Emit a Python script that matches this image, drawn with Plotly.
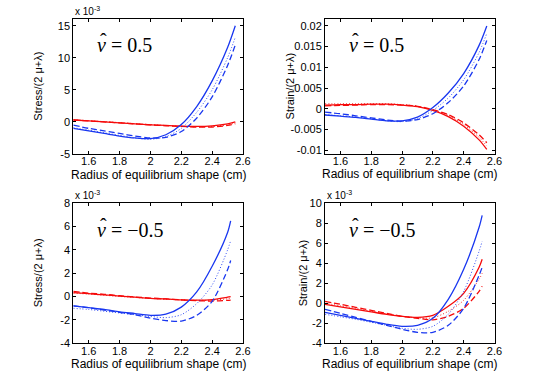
import plotly.graph_objects as go

# radius samples (cm)
r_top = [1.5, 1.6, 1.7, 1.8, 1.9, 2.0, 2.1, 2.2, 2.3, 2.4, 2.5, 2.55]
r_bot = [1.5, 1.6, 1.7, 1.8, 1.9, 2.0, 2.1, 2.2, 2.3, 2.4, 2.5, 2.52]

# stress, nu = 0.5  (x 1e-3)
s05_blue_solid = [-1.0, -1.4, -1.8, -2.2, -2.5, -2.6, -2.0, -0.4, 2.4, 6.4, 11.6, 15.0]
s05_blue_dash = [-0.5, -1.0, -1.4, -1.8, -2.2, -2.5, -2.4, -1.5, 0.6, 3.9, 8.8, 12.0]
s05_blue_dot = [-0.9, -1.3, -1.7, -2.1, -2.5, -2.7, -2.3, -1.0, 1.5, 5.0, 10.0, 13.2]
s05_red_solid = [0.3, 0.15, 0.0, -0.15, -0.3, -0.45, -0.55, -0.65, -0.7, -0.6, -0.3, 0.0]
s05_red_dash = [0.3, 0.15, 0.0, -0.15, -0.3, -0.45, -0.6, -0.7, -0.8, -0.8, -0.55, -0.3]
s05_red_dot = [0.35, 0.2, 0.05, -0.1, -0.28, -0.42, -0.55, -0.67, -0.75, -0.7, -0.45, -0.15]

# strain, nu = 0.5
e05_blue_solid = [-0.0015, -0.0018, -0.0021, -0.0025, -0.0029, -0.0029, -0.0020, 0.0003, 0.0038, 0.0085, 0.0153, 0.0200]
e05_blue_dash = [-0.0008, -0.0012, -0.0017, -0.0022, -0.0027, -0.0030, -0.0026, -0.0012, 0.0015, 0.0055, 0.0119, 0.0165]
e05_blue_dot = [-0.0014, -0.0017, -0.0020, -0.0024, -0.0029, -0.0031, -0.0024, -0.0004, 0.0026, 0.0070, 0.0136, 0.0182]
e05_red_solid = [0.0009, 0.0010, 0.0010, 0.0011, 0.0011, 0.0009, 0.0005, -0.0004, -0.0019, -0.0042, -0.0075, -0.0098]
e05_red_dash = [0.0007, 0.0008, 0.0009, 0.0010, 0.0010, 0.0009, 0.0006, -0.0002, -0.0014, -0.0034, -0.0063, -0.0082]
e05_red_dot = [0.0012, 0.0012, 0.0012, 0.0012, 0.0012, 0.0010, 0.0006, -0.0003, -0.0016, -0.0038, -0.0069, -0.0090]

# stress, nu = -0.5  (x 1e-3)
sm05_blue_solid = [-0.8, -0.95, -1.1, -1.3, -1.45, -1.6, -1.5, -0.9, 0.4, 2.6, 5.5, 6.5]
sm05_blue_dash = [-0.8, -0.95, -1.15, -1.35, -1.55, -1.85, -2.05, -2.1, -1.6, -0.4, 2.3, 3.1]
sm05_blue_dot = [-1.0, -1.1, -1.25, -1.4, -1.55, -1.7, -1.8, -1.55, -0.6, 1.0, 4.0, 4.8]
sm05_red_solid = [0.35, 0.25, 0.15, 0.05, -0.05, -0.15, -0.2, -0.27, -0.3, -0.25, -0.05, 0.0]
sm05_red_dash = [0.45, 0.3, 0.2, 0.08, -0.03, -0.12, -0.2, -0.28, -0.35, -0.38, -0.32, -0.3]
sm05_red_dot = [0.3, 0.22, 0.12, 0.02, -0.07, -0.15, -0.22, -0.28, -0.32, -0.3, -0.18, -0.12]

# strain, nu = -0.5  (x 1e-3)
em05_blue_solid = [-0.9, -1.2, -1.5, -1.8, -2.1, -2.3, -2.2, -1.5, 0.4, 3.4, 7.6, 8.8]
em05_blue_dash = [-0.6, -1.0, -1.4, -1.8, -2.2, -2.6, -2.9, -2.9, -2.2, -0.5, 2.8, 3.6]
em05_blue_dot = [-1.1, -1.35, -1.6, -1.9, -2.2, -2.5, -2.6, -2.3, -1.1, 1.2, 5.2, 6.2]
em05_red_solid = [-0.1, -0.35, -0.6, -0.85, -1.1, -1.3, -1.4, -1.2, -0.3, 1.0, 3.6, 4.4]
em05_red_dash = [0.2, -0.1, -0.4, -0.7, -1.0, -1.3, -1.5, -1.65, -1.3, -0.5, 1.2, 1.7]
em05_red_dot = [0.0, -0.25, -0.5, -0.8, -1.05, -1.3, -1.45, -1.45, -0.8, 0.3, 2.4, 3.0]

x_ticks = [1.6, 1.8, 2.0, 2.2, 2.4, 2.6]
x_ticktext = ["1.6", "1.8", "2", "2.2", "2.4", "2.6"]
tl_ticks = [-5, 0, 5, 10, 15]
tr_ticks = [-0.01, -0.005, 0, 0.005, 0.01, 0.015, 0.02]
tr_ticktext = ["-0.01", "-0.005", "0", "0.005", "0.01", "0.015", "0.02"]
bl_ticks = [-4, -2, 0, 2, 4, 6, 8]
br_ticks = [-4, -2, 0, 2, 4, 6, 8, 10]

BLUE = "rgb(25,55,240)"
RED = "rgb(245,10,10)"
W, H = 545, 389

panels = [
    # axis suffix, x, series, y range, yticks, ytext, ytitle, ytitle x px, nu label, exponent, box px
    ("", r_top, [s05_blue_solid, s05_blue_dash, s05_blue_dot, s05_red_solid, s05_red_dash, s05_red_dot],
     [-5, 16], tl_ticks, [str(t) for t in tl_ticks], "Stress/(2 μ+λ)", 38, "0.5", True,
     (73.3, 243.0, 19.3, 154.0)),
    ("2", r_top, [e05_blue_solid, e05_blue_dash, e05_blue_dot, e05_red_solid, e05_red_dash, e05_red_dot],
     [-0.0108, 0.0216], tr_ticks, tr_ticktext, "Strain/(2 μ+λ)", 290, "0.5", False,
     (325.0, 494.5, 19.3, 153.5)),
    ("3", r_bot, [sm05_blue_solid, sm05_blue_dash, sm05_blue_dot, sm05_red_solid, sm05_red_dash, sm05_red_dot],
     [-4, 8], bl_ticks, [str(t) for t in bl_ticks], "Stress/(2 μ+λ)", 38, "-0.5", True,
     (73.3, 243.0, 203.3, 343.3)),
    ("4", r_bot, [em05_blue_solid, em05_blue_dash, em05_blue_dot, em05_red_solid, em05_red_dash, em05_red_dot],
     [-4, 10], br_ticks, [str(t) for t in br_ticks], "Strain/(2 μ+λ)", 303, "-0.5", True,
     (325.0, 494.5, 203.3, 343.3)),
]

styles = [
    (BLUE, "solid", 1.3), (BLUE, "6px,3px", 1.3), (BLUE, "1px,2px", 0.9),
    (RED, "solid", 1.3), (RED, "6px,3px", 1.3), (RED, "1px,2px", 0.9),
]

fig = go.Figure()
layout = dict(
    width=W, height=H, margin=dict(l=0, r=0, t=0, b=0, autoexpand=False),
    paper_bgcolor="white", plot_bgcolor="white", showlegend=False,
    font=dict(family="Liberation Sans, Arial, sans-serif", size=11, color="black"),
)
annotations = []
axis_common = dict(
    showline=True, linecolor="black", linewidth=1, mirror="ticks",
    ticks="inside", ticklen=3, tickcolor="black", showgrid=False,
    zeroline=False, tickfont=dict(size=11), automargin=False,
)
serif = dict(family="Liberation Serif, serif", size=20)

for suffix, xs, series, yr, yt, ytt, ytitle, ytx, nu, expo, box in panels:
    x0, x1, y0, y1 = box
    xd = [x0 / W, x1 / W]
    yd = [1 - y1 / H, 1 - y0 / H]
    for ys, (col, dash, lw) in zip(series[::-1], styles[::-1]):
        fig.add_trace(go.Scatter(
            x=xs, y=ys, mode="lines",
            line=dict(color=col, dash=dash, width=lw, shape="spline", smoothing=0.8),
            xaxis="x" + suffix, yaxis="y" + suffix,
        ))
    layout["xaxis" + suffix] = dict(
        axis_common, domain=xd, range=[1.5, 2.6], anchor="y" + suffix,
        tickvals=x_ticks, ticktext=x_ticktext, ticklabelstandoff=-3,
    )
    layout["yaxis" + suffix] = dict(
        axis_common, domain=yd, range=yr, anchor="x" + suffix,
        tickvals=yt, ticktext=ytt,
    )
    # axis titles placed by hand, MATLAB style
    annotations.append(dict(
        text="Radius of equilibrium shape (cm)", xref="paper", yref="paper",
        x=(xd[0] + xd[1]) / 2, y=1 - (y1 + 21) / H, xanchor="center", yanchor="middle",
        showarrow=False, font=dict(size=12),
    ))
    annotations.append(dict(
        text=ytitle, xref="paper", yref="paper", textangle=-90,
        x=ytx / W, y=(yd[0] + yd[1]) / 2, xanchor="center", yanchor="middle",
        showarrow=False, font=dict(size=11),
    ))
    xref = "x" + suffix + " domain"
    yref = "y" + suffix + " domain"
    annotations.append(dict(
        text="<i>ν</i> = " + nu.replace("-", "−"), xref=xref, yref=yref,
        x=0.13, y=0.81, xanchor="left", yanchor="middle",
        showarrow=False, font=serif,
    ))
    annotations.append(dict(
        text="ˆ", xref=xref, yref=yref,
        x=0.13, y=0.81, xanchor="left", yanchor="middle", xshift=3, yshift=4,
        showarrow=False, font=serif,
    ))
    if expo:
        annotations.append(dict(
            text="x 10<sup>-3</sup>", xref="paper", yref="paper",
            x=x0 / W, y=yd[1], xanchor="left", yanchor="bottom",
            showarrow=False, font=dict(size=10),
        ))

layout["annotations"] = annotations
fig.update_layout(**layout)
# page body has a default 8px margin; drop it so the figure fills the window
fig.write_html("out.html", config={"displayModeBar": False},
               post_script="document.body.style.margin='0';")
